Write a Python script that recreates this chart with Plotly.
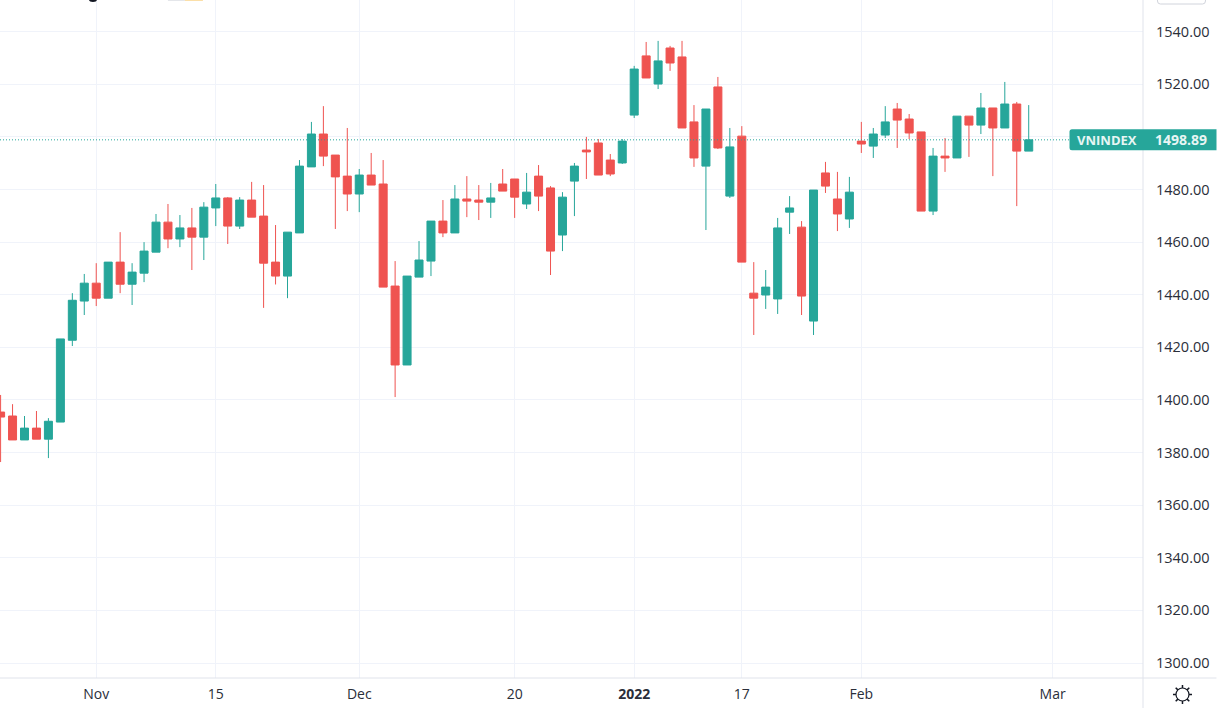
import plotly.graph_objects as go

dates = """2021-10-20 2021-10-21 2021-10-22 2021-10-25 2021-10-26 2021-10-27 2021-10-28 2021-10-29
2021-11-01 2021-11-02 2021-11-03 2021-11-04 2021-11-05 2021-11-08 2021-11-09 2021-11-10 2021-11-11 2021-11-12
2021-11-15 2021-11-16 2021-11-17 2021-11-18 2021-11-19 2021-11-22 2021-11-23 2021-11-24 2021-11-25 2021-11-26 2021-11-29 2021-11-30
2021-12-01 2021-12-02 2021-12-03 2021-12-06 2021-12-07 2021-12-08 2021-12-09 2021-12-10 2021-12-13 2021-12-14 2021-12-15 2021-12-16 2021-12-17
2021-12-20 2021-12-21 2021-12-22 2021-12-23 2021-12-24 2021-12-27 2021-12-28 2021-12-29 2021-12-30 2021-12-31
2022-01-04 2022-01-05 2022-01-06 2022-01-07 2022-01-10 2022-01-11 2022-01-12 2022-01-13 2022-01-14
2022-01-17 2022-01-18 2022-01-19 2022-01-20 2022-01-21 2022-01-24 2022-01-25 2022-01-26 2022-01-27 2022-01-28
2022-02-07 2022-02-08 2022-02-09 2022-02-10 2022-02-11 2022-02-14 2022-02-15 2022-02-16 2022-02-17 2022-02-18
2022-02-21 2022-02-22 2022-02-23 2022-02-24 2022-02-25""".split()
future_dates = ["2022-02-28", "2022-03-01"]

opens = [1395.4, 1393.9, 1384.8, 1389.3, 1385.1, 1391.6, 1422.7, 1437.6, 1444.4, 1438.7,
         1452.4, 1444.0, 1448.2, 1456.2, 1467.6, 1461.2, 1465.4, 1461.9, 1473.0, 1476.8,
         1466.1, 1476.0, 1469.9, 1452.4, 1447.1, 1463.5, 1488.6, 1501.1, 1493.1, 1485.1,
         1478.3, 1485.5, 1482.1, 1443.3, 1413.3, 1446.7, 1452.8, 1468.0, 1463.5, 1476.4,
         1476.0, 1475.2, 1482.1, 1484.0, 1474.5, 1485.1, 1480.6, 1462.7, 1483.2, 1495.0,
         1497.7, 1491.2, 1490.1, 1508.3, 1530.8, 1520.1, 1533.8, 1530.4, 1505.7, 1488.9,
         1519.0, 1477.5, 1500.3, 1440.6, 1439.9, 1438.4, 1471.4, 1465.7, 1430.0, 1486.3,
         1476.4, 1468.8, 1498.4, 1496.5, 1500.7, 1510.6, 1506.8, 1501.9, 1471.8, 1492.7,
         1492.0, 1507.9, 1504.5, 1511.0, 1503.4, 1512.5, 1494.6]
highs = [1401.9, 1398.4, 1393.9, 1395.8, 1393.1, 1423.2, 1440.6, 1447.9, 1452.0, 1452.4,
         1463.8, 1452.0, 1460.0, 1470.7, 1474.5, 1470.3, 1473.0, 1475.2, 1482.1, 1477.1,
         1477.1, 1482.9, 1481.7, 1466.5, 1463.8, 1491.2, 1505.7, 1511.7, 1493.1, 1503.4,
         1487.8, 1493.9, 1491.2, 1452.8, 1447.1, 1460.4, 1468.0, 1476.0, 1481.7, 1485.1,
         1481.7, 1482.5, 1487.8, 1484.0, 1486.3, 1489.3, 1481.3, 1479.0, 1490.1, 1500.0,
         1499.2, 1493.5, 1499.2, 1527.0, 1536.1, 1536.5, 1534.6, 1536.5, 1512.1, 1510.6,
         1522.8, 1503.4, 1504.1, 1452.4, 1449.4, 1469.2, 1477.5, 1468.0, 1479.8, 1490.5,
         1486.7, 1484.8, 1505.7, 1503.4, 1511.7, 1512.9, 1508.7, 1501.9, 1495.8, 1499.6,
         1507.9, 1507.9, 1516.7, 1511.0, 1520.9, 1513.3, 1512.1]
lows = [1376.4, 1384.8, 1384.8, 1385.1, 1377.9, 1391.6, 1420.5, 1432.3, 1435.7, 1438.7,
        1440.6, 1436.1, 1444.8, 1456.2, 1457.7, 1458.1, 1449.4, 1453.2, 1466.1, 1459.3,
        1465.0, 1469.5, 1435.0, 1443.9, 1438.7, 1463.5, 1488.6, 1488.9, 1465.0, 1471.8,
        1471.4, 1481.7, 1442.9, 1401.1, 1413.3, 1446.7, 1447.1, 1461.9, 1463.5, 1469.5,
        1468.4, 1469.2, 1479.4, 1469.2, 1472.6, 1471.8, 1447.5, 1456.6, 1469.9, 1484.0,
        1485.5, 1485.1, 1489.7, 1507.2, 1522.4, 1518.2, 1525.1, 1503.4, 1488.6, 1464.6,
        1495.4, 1476.8, 1452.4, 1424.7, 1434.6, 1432.7, 1463.1, 1432.3, 1424.7, 1478.7,
        1464.2, 1465.4, 1493.9, 1492.0, 1499.6, 1495.8, 1499.2, 1471.8, 1470.3, 1486.7,
        1492.0, 1492.4, 1501.1, 1485.1, 1503.4, 1473.7, 1494.6]
closes = [1393.5, 1384.8, 1389.3, 1385.1, 1391.9, 1423.2, 1437.9, 1444.4, 1438.7, 1452.4,
          1444.0, 1448.6, 1456.6, 1467.6, 1461.2, 1465.4, 1461.9, 1473.3, 1476.8, 1466.1,
          1476.0, 1469.5, 1452.0, 1447.1, 1463.8, 1488.9, 1501.1, 1492.7, 1484.8, 1478.3,
          1485.5, 1481.7, 1442.9, 1413.3, 1447.1, 1453.2, 1468.0, 1463.5, 1476.4, 1475.6,
          1475.2, 1476.8, 1479.4, 1477.1, 1479.0, 1477.5, 1456.6, 1477.1, 1488.9, 1494.3,
          1485.5, 1485.9, 1498.4, 1525.8, 1522.4, 1528.9, 1528.1, 1503.4, 1492.0, 1510.6,
          1495.8, 1496.2, 1452.4, 1438.7, 1442.9, 1465.4, 1473.0, 1439.5, 1479.8, 1481.3,
          1470.7, 1479.0, 1497.3, 1501.1, 1505.7, 1506.4, 1501.5, 1471.8, 1492.7, 1492.0,
          1507.9, 1504.5, 1511.0, 1503.4, 1512.5, 1494.6, 1498.89]

y_ticks = list(range(1300, 1541, 20))
hidden_y_tick = 1500  # covered by the price label in the reference
x_tick_dates = ["2021-11-01", "2021-11-15", "2021-12-01", "2021-12-20", "2022-01-04", "2022-01-17", "2022-02-07", "2022-03-01"]
x_tick_labels = ["Nov", "15", "Dec", "20", "<b>2022</b>", "17", "Feb", "Mar"]
symbol = "VNINDEX"
last_price = closes[-1]

UP, DOWN = "#26a69a", "#ef5350"
GRID, AXIS = "#f0f3fa", "#e0e3eb"
TEXT = "#2a2e39"
FONT = "Open Sans"
W, H, PW, PH = 1217, 708, 1143.5, 678


def px(x):
    return x / PW


def py(y):
    return 1 - y / PH


fig = go.Figure(go.Candlestick(
    x=dates, open=opens, high=highs, low=lows, close=closes,
    increasing=dict(line=dict(color=UP, width=1), fillcolor=UP),
    decreasing=dict(line=dict(color=DOWN, width=1), fillcolor=DOWN),
    whiskerwidth=0, hoverinfo="skip", showlegend=False,
))

label_path = "M -71 -10.5 L 73.5 -10.5 L 73.5 10.5 L -71 10.5 Q -73.5 10.5 -73.5 8 L -73.5 -8 Q -73.5 -10.5 -71 -10.5 Z"
sun_rays = ("M 0 6.5 L 0 9.5 M 0 -6.5 L 0 -9.5 M 6.5 0 L 9.5 0 M -6.5 0 L -9.5 0 "
            "M 4.6 4.6 L 6.8 6.8 M -4.6 4.6 L -6.8 6.8 M 4.6 -4.6 L 6.8 -6.8 M -4.6 -4.6 L -6.8 -6.8")
top_button = "M -24 6 L -24 -1 Q -24 -4 -21 -4 L 21 -4 Q 24 -4 24 -1 L 24 6"

shapes = [
    dict(type="line", xref="paper", yref="paper", x0=1, x1=1, y0=py(708), y1=1,
         line=dict(color=AXIS, width=1), layer="above"),
    dict(type="line", xref="paper", yref="paper", x0=0, x1=px(W), y0=0, y1=0,
         line=dict(color=AXIS, width=1), layer="above"),
    dict(type="line", xref="paper", yref="y", x0=0, x1=px(1070), y0=last_price, y1=last_price,
         line=dict(color=UP, width=1, dash="1px,2px"), layer="above"),
    dict(type="path", xref="paper", yref="y", xsizemode="pixel", ysizemode="pixel",
         xanchor=px(1143.5), yanchor=last_price, path=label_path,
         fillcolor=UP, line=dict(width=0), layer="above"),
    dict(type="circle", xref="paper", yref="paper", xsizemode="pixel", ysizemode="pixel",
         xanchor=px(1183), yanchor=py(694.5), x0=-6.5, x1=6.5, y0=-6.5, y1=6.5,
         line=dict(color="#131722", width=1.2), fillcolor="rgba(0,0,0,0)", layer="above"),
    dict(type="path", xref="paper", yref="paper", xsizemode="pixel", ysizemode="pixel",
         xanchor=px(1183), yanchor=py(694.5), path=sun_rays,
         line=dict(color="#131722", width=1.5), fillcolor="rgba(0,0,0,0)", layer="above"),
    dict(type="path", xref="paper", yref="paper", xsizemode="pixel", ysizemode="pixel",
         xanchor=px(1182), yanchor=py(0), path=top_button,
         line=dict(color="#d1d4dc", width=1), fillcolor="rgba(0,0,0,0)", layer="above"),
    dict(type="rect", xref="paper", yref="paper", x0=px(168), x1=px(185), y0=py(1), y1=py(0),
         fillcolor="#e4e6ea", line=dict(width=0), layer="above"),
    dict(type="rect", xref="paper", yref="paper", x0=px(185), x1=px(203), y0=py(1), y1=py(0),
         fillcolor="#fbdfa8", line=dict(width=0), layer="above"),
    dict(type="circle", xref="paper", yref="paper", x0=px(89), x1=px(97), y0=py(2), y1=py(-3),
         fillcolor="#131722", line=dict(width=0), layer="above"),
]

annotations = [
    dict(xref="paper", yref="y", x=px(1075), y=last_price, text=f"<b>{symbol}</b>", showarrow=False,
         xanchor="left", yanchor="middle", font=dict(family=FONT, size=13, color="#e8f6f4")),
    dict(xref="paper", yref="y", x=px(1210), y=last_price, text=f"<b>{last_price:.2f}</b>", showarrow=False,
         xanchor="right", yanchor="middle", font=dict(family=FONT, size=14, color="#e8f6f4")),
]

fig.update_layout(
    width=W, height=H, autosize=False,
    margin=dict(l=0, r=W - PW, t=0, b=H - PH, pad=0),
    paper_bgcolor="white", plot_bgcolor="white",
    font=dict(family=FONT, size=14, color=TEXT),
    boxgap=0.33, boxgroupgap=0,
    shapes=shapes, annotations=annotations,
    hovermode=False, dragmode=False,
    xaxis=dict(
        type="category", categoryorder="array", categoryarray=dates + future_dates,
        range=[-0.05, 95.56], rangeslider=dict(visible=False),
        tickmode="array", tickvals=x_tick_dates, ticktext=x_tick_labels,
        showgrid=True, gridcolor=GRID, gridwidth=1, zeroline=False, showline=False,
        ticks="", ticklabelstandoff=6, tickfont=dict(family=FONT, size=14, color=TEXT),
    ),
    yaxis=dict(
        side="right", range=[1294.3, 1552.05], tickmode="array", tickvals=y_ticks,
        ticktext=["" if v == hidden_y_tick else f"{v:.2f}" for v in y_ticks],
        showgrid=True, gridcolor=GRID, gridwidth=1, zeroline=False, showline=False,
        ticks="", ticklabelstandoff=12, tickfont=dict(family=FONT, size=14.5, color=TEXT),
    ),
)

fig.write_html("out.html", config=dict(displayModeBar=False),
               post_script="document.body.style.margin='0';")
